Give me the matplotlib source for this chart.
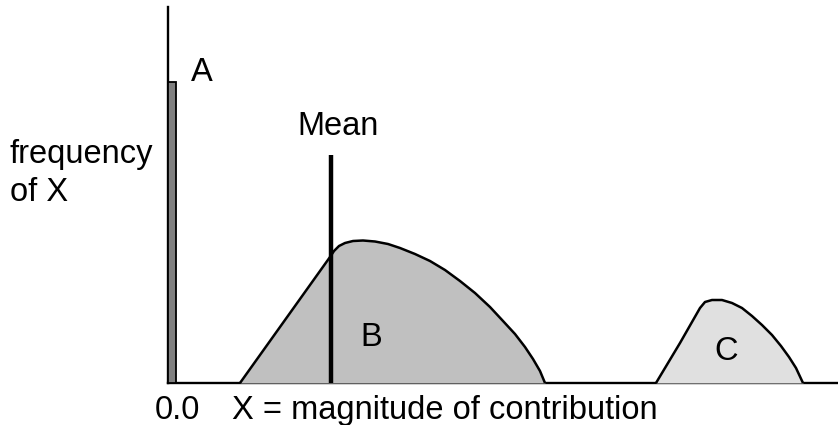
import matplotlib
matplotlib.use("Agg")
import matplotlib.pyplot as plt

# Data (x: units along magnitude axis, y: frequency units)
bar_a_x = 0
bar_a_width = 8
bar_a_height = 301

mean_x = 163
mean_top = 228

b_x = [72, 162, 166, 171, 177, 185, 195, 207, 220, 232, 247, 262, 277, 292, 307, 322, 335, 347, 357, 365, 372, 377]
b_y = [0, 126, 132, 137, 140, 142, 142.5, 141.5, 139, 135, 129, 122, 113, 102, 90, 76, 62, 49, 36, 24, 12, 0]

c_x = [488, 512, 532, 537, 544, 554, 564, 574, 584, 594, 604, 613, 621, 628, 635]
c_y = [0, 40, 75, 81, 83, 83, 80, 75, 67, 58, 48, 37, 26, 15, 0]

W, H = 838, 425
fig = plt.figure(figsize=(W / 100, H / 100), dpi=100)
ax = fig.add_axes([168 / W, (H - 383) / H, (W - 168) / W, (383 - 7) / H])
ax.set_xlim(0, 670)
ax.set_ylim(0, 376)
for s in ["top", "right"]:
    ax.spines[s].set_visible(False)
for s in ["left", "bottom"]:
    ax.spines[s].set_linewidth(1.7)
    ax.spines[s].set_color("black")
ax.set_xticks([])
ax.set_yticks([])

font = dict(family="Liberation Sans", fontsize=23.5, color="black")

ax.bar(bar_a_x, bar_a_height, width=bar_a_width, align="edge",
       color="#808080", edgecolor="black", linewidth=1.3, zorder=3, clip_on=False)

ax.fill_between(b_x, b_y, 0, color="#c0c0c0", linewidth=0, zorder=3, clip_on=False)
ax.plot(b_x, b_y, color="black", linewidth=1.8, zorder=4,
        solid_joinstyle="round", solid_capstyle="butt", clip_on=False)
ax.fill_between(c_x, c_y, 0, color="#e0e0e0", linewidth=0, zorder=3, clip_on=False)
ax.plot(c_x, c_y, color="black", linewidth=1.8, zorder=4,
        solid_joinstyle="round", solid_capstyle="butt", clip_on=False)

ax.plot([mean_x, mean_x], [0, mean_top], color="black", linewidth=3.2, zorder=5,
        solid_capstyle="butt", clip_on=False)

ax.text(34, 310, "A", ha="center", va="center", **font)
ax.text(170, 256, "Mean", ha="center", va="center", **font)
ax.text(203, 46, "B", ha="center", va="center", **font)
ax.text(558, 31, "C", ha="center", va="center", **font)

ax.text(-158, 220, "frequency", ha="left", va="baseline", clip_on=False, **font)
ax.text(-158, 182, "of X", ha="left", va="baseline", clip_on=False, **font)
ax.text(-13, -36, "0.0", ha="left", va="baseline", clip_on=False, **font)
ax.text(64, -36, "X = magnitude of contribution", ha="left", va="baseline", clip_on=False, **font)

fig.savefig("out.png", dpi=100)
